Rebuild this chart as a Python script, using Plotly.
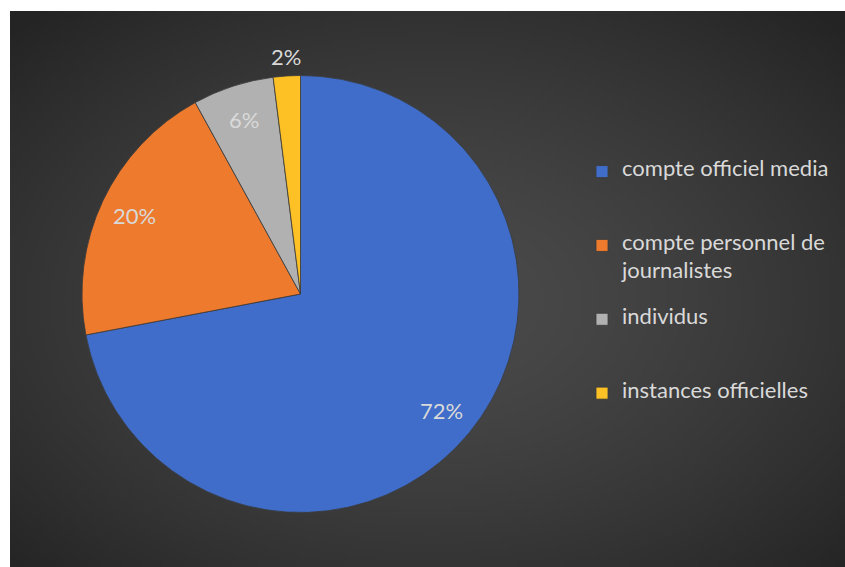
"""Pie chart: répartition des comptes."""

import base64
import math
import struct
import zlib

import numpy as np
import plotly.graph_objects as go

labels = [
    "compte officiel media",
    "compte personnel de journalistes",
    "individus",
    "instances officielles",
]
# legend text, split the way the original wraps it
legend_lines = [
    ["compte officiel media"],
    ["compte personnel de", "journalistes"],
    ["individus"],
    ["instances officielles"],
]
values = [72, 20, 6, 2]
colors = ["#3f6dc9", "#ee7a2e", "#b1b1b1", "#fec125"]
outside = [False, False, False, True]

W, H = 845, 567
PIE_X = (82 / W, 519 / W)
PIE_Y = ((H - 513) / H, (H - 75) / H)
TEXT = "#d9d9d9"
FONT = "Lato, sans-serif"


def gradient_png(w=212, h=140):
    """Radial grey gradient used as the chart-area background."""
    yy, xx = np.mgrid[0:h, 0:w]
    dx = (xx - w * 0.5) / (w * 0.5)
    dy = (yy - h * 0.52) / (h * 0.5)
    d = np.clip(np.sqrt(dx**2 + dy**2) / np.sqrt(2), 0, 1)
    v = (75 - (75 - 36) * d**1.4).astype(np.uint8)
    raw = b"".join(b"\x00" + bytes(np.repeat(row, 3)) for row in v)

    def chunk(tag, data):
        c = struct.pack(">I", len(data)) + tag + data
        return c + struct.pack(">I", zlib.crc32(tag + data) & 0xFFFFFFFF)

    png = b"\x89PNG\r\n\x1a\n"
    png += chunk(b"IHDR", struct.pack(">IIBBBBB", w, h, 8, 2, 0, 0, 0))
    png += chunk(b"IDAT", zlib.compress(raw, 9))
    png += chunk(b"IEND", b"")
    return "data:image/png;base64," + base64.b64encode(png).decode()


def legend_text(lines, n_rows=5):
    # small base line height; every second row carries a visible line
    rows = [" "] * n_rows
    for i, s in enumerate(lines):
        rows[2 * i] = "<span style='font-size:22px'>%s</span>" % s
    return "<br>".join(rows)


legend_labels = [legend_text(l) for l in legend_lines[:-1]] + [
    legend_text(legend_lines[-1], n_rows=1)
]

fig = go.Figure(
    go.Pie(
        labels=legend_labels,
        values=values,
        sort=False,
        direction="clockwise",
        rotation=0,
        marker=dict(colors=colors, line=dict(color="#3a3a3a", width=0.8)),
        textinfo="none",
        hovertext=labels,
        hoverinfo="text+percent",
        domain=dict(x=list(PIE_X), y=list(PIE_Y)),
    )
)

# data labels, placed Excel-style along each slice's mid angle
cx = (PIE_X[0] + PIE_X[1]) / 2 * W
cy = H - (PIE_Y[0] + PIE_Y[1]) / 2 * H
r = min((PIE_X[1] - PIE_X[0]) * W, (PIE_Y[1] - PIE_Y[0]) * H) / 2
total = sum(values)
acc = 0
for v, out in zip(values, outside):
    mid = (acc + v / 2) / total * 2 * math.pi
    acc += v
    k = 1.09 if out else 0.84
    px = cx + k * r * math.sin(mid)
    py = cy - k * r * math.cos(mid)
    fig.add_annotation(
        x=px / W,
        y=1 - py / H,
        xref="paper",
        yref="paper",
        xanchor="center",
        yanchor="middle",
        text=f"{round(v / total * 100)}%",
        showarrow=False,
        font=dict(family=FONT, size=22, color=TEXT),
    )

fig.update_layout(
    width=W,
    height=H,
    margin=dict(l=0, r=0, t=0, b=0),
    paper_bgcolor="white",
    showlegend=True,
    legend=dict(
        x=582 / W,
        y=1 - 158 / H,
        xanchor="left",
        yanchor="top",
        valign="top",
        itemwidth=30,
        font=dict(family=FONT, size=10.9, color=TEXT),
        bgcolor="rgba(0,0,0,0)",
    ),
    images=[
        dict(
            source=gradient_png(),
            xref="paper",
            yref="paper",
            x=10 / W,
            y=1 - 11 / H,
            sizex=1 - 10 / W,
            sizey=1 - 11 / H,
            xanchor="left",
            yanchor="top",
            sizing="stretch",
            layer="below",
        )
    ],
)

fig.write_html(
    "out.html",
    config={"displayModeBar": False},
    post_script="document.body.style.margin='0';",
)
